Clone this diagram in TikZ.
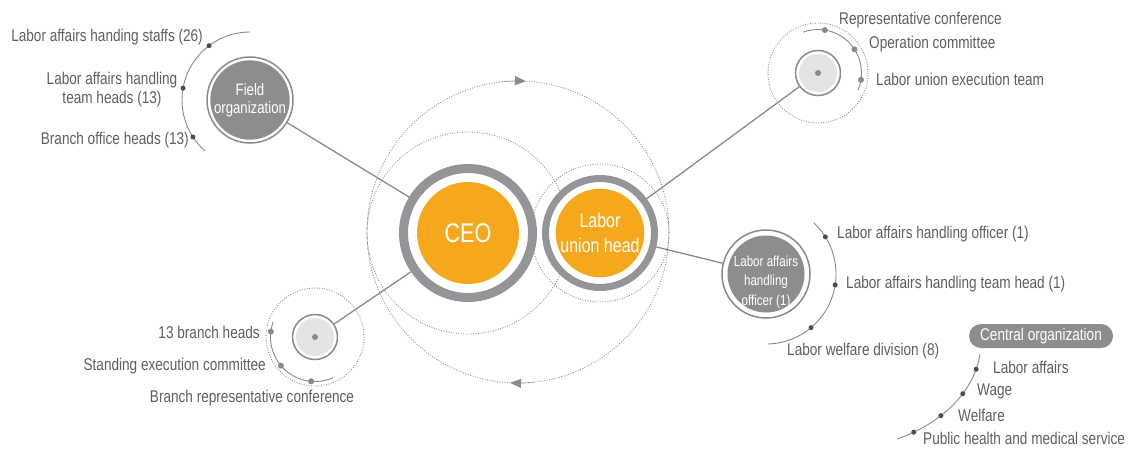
\documentclass[tikz,border=0pt]{standalone}
\usepackage{fontspec}
\setmainfont{Liberation Sans}[FakeStretch=0.8]
\usepackage{xcolor}
\usepackage{tikz}
\usetikzlibrary{positioning,arrows.meta,calc}
\definecolor{unionorange}{HTML}{F6A81D}
\definecolor{ringgray}{HTML}{939598}
\definecolor{discgray}{HTML}{8C8D8F}
\definecolor{palegray}{HTML}{E4E4E4}
\definecolor{linegray}{HTML}{8A8A8C}
\definecolor{dotgray}{HTML}{4D4D4F}
\definecolor{txtgray}{HTML}{5E5F61}

\begin{document}
\begin{tikzpicture}[x=1pt, y=-1pt,
  lbl/.style={text=txtgray, font=\fontsize{17}{19}\selectfont, inner sep=1pt},
  link/.style={draw=linegray, line width=1.3pt},
  thinarc/.style={draw=linegray, line width=0.9pt},
  dotring/.style={draw=linegray, line width=0.9pt, dash pattern=on 0.9pt off 1.6pt},
  ring/.style={circle, draw=ringgray, fill=white, inner sep=0pt},
  disc/.style={circle, fill=unionorange, text=white, inner sep=0pt, align=center},
  graydisc/.style={circle, fill=discgray, text=white, inner sep=0pt, align=center},
  outline/.style={circle, draw=linegray, line width=1.5pt, fill=white, inner sep=0pt},
  dot/.style={circle, fill=dotgray, inner sep=0pt, minimum size=5pt},
  softdot/.style={circle, fill=linegray, inner sep=0pt, minimum size=6pt}]
\useasboundingbox (0,0) rectangle (1134,448);
% centres (pixel grid of the page)
\coordinate (ceoc) at (468,233);
\coordinate (unionc) at (600,233);
\coordinate (bigc) at (518,232);
\coordinate (fieldc) at (250,100);
\coordinate (execc) at (818,73);
\coordinate (officerc) at (766,274);
\coordinate (branchc) at (315,337);

% dotted orbits round CEO and union head
\draw[dotring] (bigc) circle[radius=151];
\draw[dotring] (ceoc) circle[radius=101];
\draw[dotring] (unionc) circle[radius=69];
\draw[dotring, -{Triangle[length=11pt,width=9pt,fill=linegray]}] ([shift={(264:151)}]bigc) arc[start angle=264, end angle=273, radius=151];
\draw[dotring, -{Triangle[length=11pt,width=9pt,fill=linegray]}] ([shift={(84:151)}]bigc) arc[start angle=84, end angle=93, radius=151];

% CEO and union head
\node[ring, line width=9pt, minimum size=129pt] (ceoring) at (ceoc) {};
\node[disc, minimum size=102pt, font=\fontsize{27}{30}\selectfont] (ceo) at (ceoc) {CEO};
\node[ring, line width=7pt, minimum size=109pt] (unionring) at (unionc) {};
\node[disc, minimum size=88pt, font=\fontsize{20}{25}\selectfont] (union) at (unionc) {Labor\\union head};

% field organization (top left)
\draw[thinarc] ([shift={(-90:68)}]fieldc) arc[start angle=-90, end angle=-229, radius=68];
\node[outline, minimum size=86pt] (fieldring) at (fieldc) {};
\node[graydisc, minimum size=75pt, font=\fontsize{16.5}{18.5}\selectfont] (field) at (fieldc) {Field\\organization};
\node[dot] (fd1) at ([shift={(-127:68)}]fieldc) {};
\node[dot] (fd2) at ([shift={(-170:68)}]fieldc) {};
\node[dot] (fd3) at ([shift={(-213:68)}]fieldc) {};
\node[lbl, anchor=east] at (204,37) {Labor affairs handing staffs (26)};
\node[lbl, align=center] at (112,90) {Labor affairs handling\\team heads (13)};
\node[lbl, anchor=east] at (190,140) {Branch office heads (13)};

% union bodies (top right)
\draw[dotring] (execc) circle[radius=50];
\draw[thinarc] ([shift={(-110:43.5)}]execc) arc[start angle=-110, end angle=23, radius=43.5];
\node[outline, minimum size=45pt] (execring) at (execc) {};
\node[circle, fill=palegray, minimum size=38pt, inner sep=0pt] (execdisc) at (execc) {};
\node[softdot] (execdot) at (execc) {};
\node[softdot] (ed1) at ([shift={(-81:43.5)}]execc) {};
\node[softdot] (ed2) at ([shift={(-33:43.5)}]execc) {};
\node[softdot] (ed3) at ([shift={(9:43.5)}]execc) {};
\node[lbl, anchor=west] at (838,20) {Representative conference};
\node[lbl, anchor=west] at (868,44) {Operation committee};
\node[lbl, anchor=west] at (875,79) {Labor union execution team};

% labor affairs handling officer (right)
\draw[thinarc] ([shift={(-47:70)}]officerc) arc[start angle=-47, end angle=88, radius=70];
\node[outline, minimum size=88pt] (officerring) at (officerc) {};
\node[graydisc, minimum size=77pt] (officer) at (officerc) {};
\node[text=white, align=center, inner sep=0pt, font=\fontsize{14.5}{19.5}\selectfont] (officertxt) at (766,282) {Labor affairs\\handling\\officer (1)};
\node[dot] (od1) at ([shift={(-32:70)}]officerc) {};
\node[dot] (od2) at ([shift={(9:70)}]officerc) {};
\node[dot] (od3) at ([shift={(50:70)}]officerc) {};
\node[lbl, anchor=west] at (836,234) {Labor affairs handling officer (1)};
\node[lbl, anchor=west] at (845,284) {Labor affairs handling team head (1)};
\node[lbl, anchor=west] at (786,351) {Labor welfare division (8)};

% branch bodies (bottom left)
\draw[dotring] (branchc) circle[radius=49];
\draw[thinarc] ([shift={(-160:44.5)}]branchc) arc[start angle=-160, end angle=-294, radius=44.5];
\node[outline, minimum size=45pt] (branchring) at (branchc) {};
\node[circle, fill=palegray, minimum size=38pt, inner sep=0pt] (branchdisc) at (branchc) {};
\node[softdot] (branchdot) at (branchc) {};
\node[softdot] (bd1) at ([shift={(-173:44.5)}]branchc) {};
\node[softdot] (bd2) at ([shift={(-220:44.5)}]branchc) {};
\node[softdot] (bd3) at ([shift={(-265:44.5)}]branchc) {};
\node[lbl, anchor=east] at (261,332) {13 branch heads};
\node[lbl, anchor=east] at (267,366) {Standing execution committee};
\node[lbl] at (252,398) {Branch representative conference};

% spokes
\draw[link] (fieldring) -- (ceoring);
\draw[link] (branchring) -- (ceoring);
\draw[link] (execring) -- (unionring);
\draw[link] (officerring) -- (unionring);

% central organization (bottom right)
\node[fill=discgray, text=white, rounded corners=12pt, minimum width=144pt, minimum height=24pt, inner sep=0pt, font=\fontsize{17}{19}\selectfont] (central) at (1041,336) {Central organization};
\draw[thinarc] (980,354) .. controls (975,388) and (946,422) .. (897,439)
  node[dot, pos=0.15] (cd1) {} node[dot, pos=0.4] (cd2) {}
  node[dot, pos=0.65] (cd3) {} node[dot, pos=0.88] (cd4) {};
\node[lbl, anchor=west] at (992,367) {Labor affairs};
\node[lbl, anchor=west] at (976,391) {Wage};
\node[lbl, anchor=west] at (957,415) {Welfare};
\node[lbl, anchor=west] at (922,438) {Public health and medical service};
\end{tikzpicture}
\end{document}
